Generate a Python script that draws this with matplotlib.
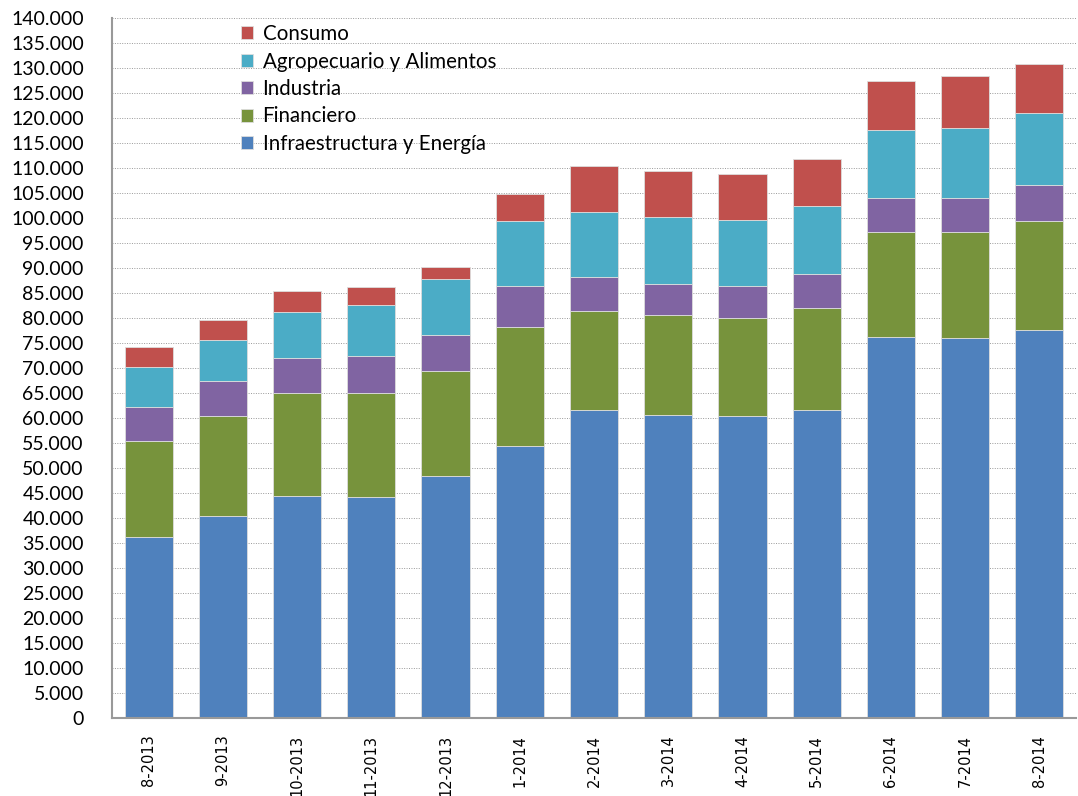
import numpy as np
import matplotlib.pyplot as plt
from matplotlib.ticker import FuncFormatter, MultipleLocator

meses = ["8-2013", "9-2013", "10-2013", "11-2013", "12-2013", "1-2014", "2-2014",
         "3-2014", "4-2014", "5-2014", "6-2014", "7-2014", "8-2014"]

infraestructura = [36300, 40500, 44500, 44300, 48500, 54500, 61700, 60700, 60500, 61600, 76300, 76000, 77700]
financiero = [19100, 20000, 20500, 20700, 21000, 23700, 19800, 19900, 19500, 20400, 20900, 21200, 21700]
industria = [6800, 7000, 7000, 7500, 7200, 8300, 6700, 6300, 6500, 6900, 6900, 6900, 7200]
agropecuario = [7950, 8200, 9300, 10200, 11100, 12900, 13000, 13300, 13200, 13500, 13600, 14000, 14500]
consumo = [4050, 4000, 4200, 3500, 2400, 5500, 9300, 9300, 9200, 9500, 9700, 10300, 9700]

series = [
    ("Infraestructura y Energía", infraestructura, "#4F81BD"),
    ("Financiero", financiero, "#77933C"),
    ("Industria", industria, "#8064A2"),
    ("Agropecuario y Alimentos", agropecuario, "#4BACC6"),
    ("Consumo", consumo, "#C0504D"),
]

fig = plt.figure(figsize=(10.78, 7.96), dpi=100)
ax = fig.add_axes([0.1035, 0.098, 0.895, 0.879])

x = np.arange(len(meses))
bottom = np.zeros(len(meses))
handles = []
for name, vals, color in series:
    b = ax.bar(x, vals, width=0.65, bottom=bottom, color=color, label=name,
               edgecolor="#dddddd", linewidth=0.6)
    handles.append(b)
    bottom += np.array(vals)

ax.set_xlim(-0.5, len(meses) - 0.5)
ax.set_ylim(0, 140000)
ax.yaxis.set_major_locator(MultipleLocator(5000))
ax.yaxis.set_major_formatter(FuncFormatter(lambda v, p: f"{int(v):,}".replace(",", ".")))
ax.grid(axis="y", linestyle=(0, (1, 1.5)), color="#999999", linewidth=0.7)
ax.set_axisbelow(True)

for s in ["top", "right"]:
    ax.spines[s].set_visible(False)
ax.spines["left"].set_color("#999999")
ax.spines["bottom"].set_color("#999999")
ax.spines["left"].set_linewidth(1.5)
ax.spines["bottom"].set_linewidth(1.5)

ax.set_xticks(x)
ax.set_xticklabels(meses, rotation=90, fontsize=10.5, family="DejaVu Sans")
ax.tick_params(axis="x", length=0, pad=12)
ax.tick_params(axis="y", length=0, pad=20)
for lbl in ax.get_yticklabels():
    lbl.set_family("Lato")
    lbl.set_fontsize(14)

leg = ax.legend(handles[::-1], [s[0] for s in series][::-1], loc="upper left",
                bbox_to_anchor=(0.115, 1.018), frameon=False, prop={"family": "Lato", "size": 14.8},
                handlelength=0.6, handleheight=0.6, handletextpad=0.45, labelspacing=0.36)

fig.savefig("out.png", dpi=100)
